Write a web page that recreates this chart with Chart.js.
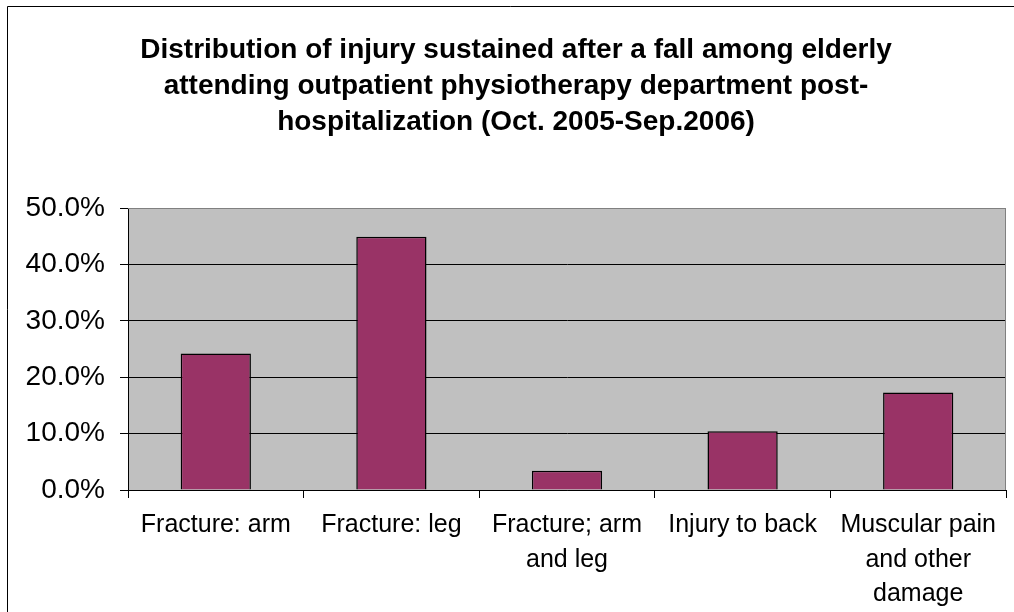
<!DOCTYPE html>
<html>
<head>
<meta charset="utf-8">
<script src="https://cdn.jsdelivr.net/npm/chart.js@4/dist/chart.umd.min.js"></script>
<style>
  html, body { margin: 0; padding: 0; background: #fff; }
  canvas { display: block; }
</style>
</head>
<body>
<canvas id="c" width="1014" height="612"></canvas>
<script>
const titleLines = [
  "Distribution of injury sustained after a fall among elderly",
  "attending outpatient physiotherapy department post-",
  "hospitalization (Oct. 2005-Sep.2006)"
];
const categories = [
  ["Fracture: arm"],
  ["Fracture: leg"],
  ["Fracture; arm", "and leg"],
  ["Injury to back"],
  ["Muscular pain", "and other", "damage"]
];
const percentValues = [24.2, 44.9, 3.4, 10.4, 17.3];
const yTickMin = 0, yTickMax = 50, yTickStep = 10;

const FONT = "'Liberation Sans', Arial, sans-serif";

const decor = {
  id: 'decor',
  beforeDraw(chart) {
    const ctx = chart.ctx, a = chart.chartArea;
    ctx.save();
    ctx.fillStyle = '#fff';
    ctx.fillRect(0, 0, chart.width, chart.height);
    ctx.strokeStyle = '#000';
    ctx.lineWidth = 1;
    ctx.beginPath();
    ctx.moveTo(7.5, chart.height);
    ctx.lineTo(7.5, 6.5);
    ctx.lineTo(chart.width, 6.5);
    ctx.stroke();
    ctx.fillStyle = '#C0C0C0';
    ctx.fillRect(a.left, a.top, a.right - a.left, a.bottom - a.top);
    ctx.restore();
  },
  beforeDatasetsDraw(chart) {
    const ctx = chart.ctx, a = chart.chartArea;
    ctx.save();
    ctx.strokeStyle = '#808080';
    ctx.lineWidth = 1;
    ctx.beginPath();
    ctx.moveTo(a.left, a.top + 0.5);
    ctx.lineTo(Math.round(a.right) - 0.5, a.top + 0.5);
    ctx.lineTo(Math.round(a.right) - 0.5, a.bottom);
    ctx.stroke();
    ctx.restore();
  },
  afterDraw(chart) {
    const ctx = chart.ctx;
    ctx.save();
    ctx.fillStyle = '#000';
    ctx.font = "bold 28px " + FONT;
    ctx.textAlign = 'center';
    ctx.textBaseline = 'alphabetic';
    const cx = 516, base = [58, 94, 130];
    titleLines.forEach((t, i) => ctx.fillText(t, cx, base[i]));
    ctx.restore();
  }
};

new Chart(document.getElementById('c'), {
  type: 'bar',
  data: {
    labels: categories,
    datasets: [{
      data: percentValues,
      backgroundColor: '#993366',
      borderColor: '#000',
      borderWidth: 1.5,
      barPercentage: 0.4,
      categoryPercentage: 1.0
    }]
  },
  options: {
    responsive: false,
    animation: false,
    devicePixelRatio: 1,
    layout: { padding: { top: 208, right: 8, left: 0, bottom: 0 } },
    plugins: { legend: { display: false }, title: { display: false }, tooltip: { enabled: false } },
    scales: {
      x: {
        afterFit(s) { s.height = 122; },
        grid: { offset: true, drawOnChartArea: false, color: '#000', tickLength: 8 },
        border: { display: true, color: '#000', width: 1 },
        ticks: {
          color: '#000', font: { family: FONT, size: 25, lineHeight: 1.38 },
          padding: 10, maxRotation: 0, autoSkip: false
        }
      },
      y: {
        min: yTickMin, max: yTickMax,
        afterFit(s) { s.width = 128; },
        grid: {
          color: (c) => (c.tick && c.tick.value === yTickMax) ? '#808080' : '#000',
          tickColor: '#000', tickLength: 8, lineWidth: 1
        },
        border: { display: true, color: '#000', width: 1 },
        ticks: {
          stepSize: yTickStep, color: '#000',
          font: { family: FONT, size: 28 }, padding: 15,
          callback: (v) => v.toFixed(1) + '%'
        }
      }
    }
  },
  plugins: [decor]
});
</script>
</body>
</html>
